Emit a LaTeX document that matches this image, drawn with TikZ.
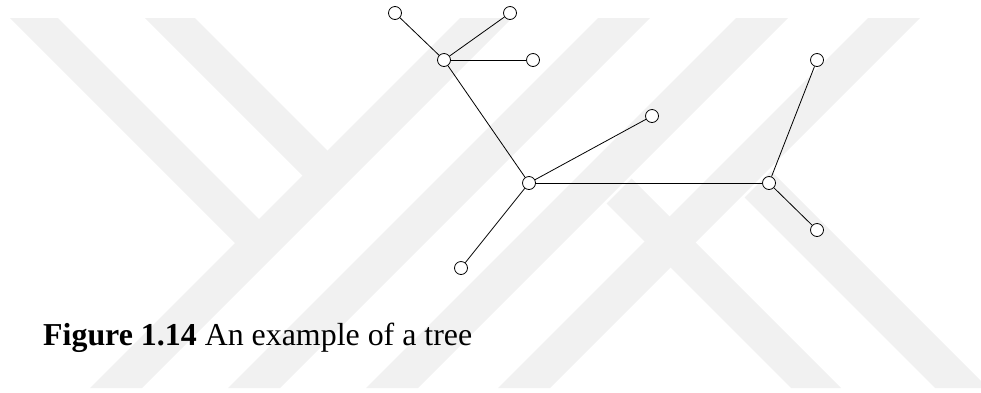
\documentclass[tikz,border=0pt]{standalone}
\usepackage{fontspec}
\setmainfont{Liberation Serif}
\definecolor{wmark}{RGB}{241,241,241}
\tikzset{
  vtx/.style={draw=black, fill=white, circle, minimum size=13pt, inner sep=0pt, line width=0.8pt},
  edge/.style={draw=black, line width=0.8pt},
  band/.style={fill=wmark, draw=none}
}
\begin{document}
\begin{tikzpicture}[x=1pt,y=-1pt]
\useasboundingbox (0,0) rectangle (981,392);
% watermark bands
\fill[band] (460,18) -- (512,18) -- (142,388) -- (90,388) -- cycle;
\fill[band] (598,18) -- (650,18) -- (280,388) -- (228,388) -- cycle;
\fill[band] (736,18) -- (788,18) -- (418,388) -- (366,388) -- cycle;
\fill[band] (868,18) -- (920,18) -- (550,388) -- (498,388) -- cycle;
\fill[band] (10,18) -- (58,18) -- (261,221) -- (237,245) -- cycle;
\fill[band] (145,18) -- (195,18) -- (329.5,152.5) -- (304.5,177.5) -- cycle;
\fill[band] (631.5,178.5) -- (606.5,203.5) -- (791,388) -- (841,388) -- cycle;
\fill[band] (771,171) -- (744.5,197.5) -- (935,388) -- (981,388) -- (981,381) -- cycle;
% tree
\node[vtx] (a) at (395,13) {};
\node[vtx] (b) at (510,13) {};
\node[vtx] (c) at (444,60) {};
\node[vtx] (d) at (533,60) {};
\node[vtx] (e) at (652,116) {};
\node[vtx] (f) at (529,183) {};
\node[vtx] (g) at (769,183) {};
\node[vtx] (h) at (817,60) {};
\node[vtx] (i) at (817,230) {};
\node[vtx] (j) at (461,268) {};
\draw[edge] (a) -- (c);
\draw[edge] (b) -- (c);
\draw[edge] (c) -- (d);
\draw[edge] (c) -- (f);
\draw[edge] (f) -- (e);
\draw[edge] (f) -- (g);
\draw[edge] (f) -- (j);
\draw[edge] (g) -- (h);
\draw[edge] (g) -- (i);
% caption
\node[anchor=base west, inner sep=0pt, font=\fontsize{31.9}{38}\selectfont] (cap) at (43,345) {\textbf{Figure 1.14} An example of a tree};
\end{tikzpicture}
\end{document}
